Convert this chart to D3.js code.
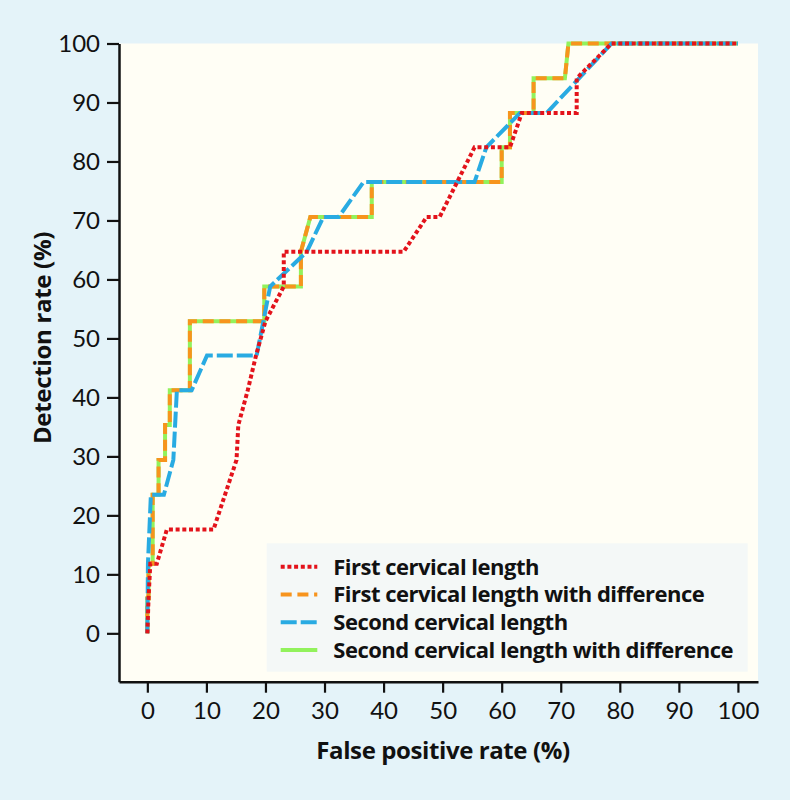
<!DOCTYPE html>
<html>
<head>
<meta charset="utf-8">
<script src="https://cdn.jsdelivr.net/npm/d3@7"></script>
<style>
  html, body { margin: 0; padding: 0; background: #e4f3f9; }
  svg { display: block; }
</style>
</head>
<body>
<svg id="chart" width="790" height="800"></svg>
<script>
// ---- data ----
const xTicks = [0, 10, 20, 30, 40, 50, 60, 70, 80, 90, 100];
const yTicks = [0, 10, 20, 30, 40, 50, 60, 70, 80, 90, 100];

const seriesNames = [
  "First cervical length",
  "First cervical length with difference",
  "Second cervical length",
  "Second cervical length with difference"
];

const firstFPR = [0, 0.2, 0.5, 1.6, 3.3, 11.2, 15.1, 15.4, 17.0, 18.4, 20.0, 23.1, 23.1, 43.4, 47.3, 49.5, 55.4, 61.4, 63.4, 72.7, 72.7, 78.6, 100];
const firstDR  = [0, 5.9, 11.8, 11.8, 17.6, 17.6, 29.4, 35.3, 41.2, 47.1, 52.9, 58.8, 64.7, 64.7, 70.6, 70.6, 82.4, 82.4, 88.2, 88.2, 94.1, 100, 100];

const firstDiffFPR = [0, 0, 0.2, 0.2, 0.9, 0.9, 1.9, 1.9, 3.0, 3.0, 3.8, 3.8, 7.2, 7.2, 19.8, 19.8, 26.0, 26.0, 27.6, 38.0, 38.0, 60.0, 60.0, 61.4, 61.4, 65.4, 65.4, 70.7, 71.3, 100];
const firstDiffDR  = [0, 5.9, 5.9, 11.8, 11.8, 23.5, 23.5, 29.4, 29.4, 35.3, 35.3, 41.2, 41.2, 52.9, 52.9, 58.8, 58.8, 64.7, 70.6, 70.6, 76.5, 76.5, 82.4, 82.4, 88.2, 88.2, 94.1, 94.1, 100, 100];

const secondFPR = [0, 0.1, 0.6, 2.8, 4.4, 5.0, 7.5, 10.1, 18.5, 20.8, 27.0, 29.8, 32.4, 36.6, 55.4, 57.4, 63.1, 67.6, 78.6, 100];
const secondDR  = [0, 11.8, 23.5, 23.5, 29.4, 41.2, 41.2, 47.1, 47.1, 58.8, 64.7, 70.6, 70.6, 76.5, 76.5, 82.4, 88.2, 88.2, 100, 100];

const secondDiffFPR = [0, 0, 0.2, 0.2, 0.9, 0.9, 1.9, 1.9, 3.0, 3.0, 3.8, 3.8, 7.2, 7.2, 19.8, 19.8, 26.0, 26.0, 27.6, 38.0, 38.0, 60.0, 60.0, 61.4, 61.4, 65.4, 65.4, 70.7, 71.3, 100];
const secondDiffDR  = [0, 5.9, 5.9, 11.8, 11.8, 23.5, 23.5, 29.4, 29.4, 35.3, 35.3, 41.2, 41.2, 52.9, 52.9, 58.8, 58.8, 64.7, 70.6, 70.6, 76.5, 76.5, 82.4, 82.4, 88.2, 88.2, 94.1, 94.1, 100, 100];

// ---- styles ----
const styles = {
  "First cervical length": { color: "#e3131b", dash: "4,2.7" },
  "First cervical length with difference": { color: "#f7941d", dash: "11,5.7" },
  "Second cervical length": { color: "#29abe2", dash: "16,4" },
  "Second cervical length with difference": { color: "#92f25c", dash: null }
};

const series = [
  { name: seriesNames[0], fpr: firstFPR, dr: firstDR },
  { name: seriesNames[1], fpr: firstDiffFPR, dr: firstDiffDR },
  { name: seriesNames[2], fpr: secondFPR, dr: secondDR },
  { name: seriesNames[3], fpr: secondDiffFPR, dr: secondDiffDR }
];

const boldFont = "'Open Sans', 'Noto Sans', sans-serif";
const tickFont = "Lato, 'Noto Sans', sans-serif";

const svg = d3.select("#chart");
const plotL = 119, plotR = 758, plotT = 43.5, plotB = 681.7;

const x = d3.scaleLinear().domain([-4.8, 103.4]).range([plotL, plotR]);
const y = d3.scaleLinear().domain([-8.2, 100]).range([plotB, plotT]);

svg.append("rect").attr("x", 0).attr("y", 0).attr("width", 790).attr("height", 800).attr("fill", "#e4f3f9");
svg.append("rect").attr("x", plotL).attr("y", plotT).attr("width", plotR - plotL).attr("height", plotB - plotT).attr("fill", "#fffef5");

// legend box (drawn below lines)
const legX = 266.7, legY = 543.3, legW = 481, legH = 128.4;
svg.append("rect").attr("x", legX).attr("y", legY).attr("width", legW).attr("height", legH).attr("fill", "#f4f8f7");

const line = d3.line().x(d => x(d[0])).y(d => y(d[1]));

const drawOrder = [3, 1, 2, 0];
drawOrder.forEach(i => {
  const s = series[i];
  const st = styles[s.name];
  const pts = s.fpr.map((v, k) => [v, s.dr[k]]);
  svg.append("path")
    .datum(pts)
    .attr("d", line)
    .attr("fill", "none")
    .attr("stroke", st.color)
    .attr("stroke-width", 4)
    .attr("stroke-dasharray", st.dash)
    .attr("stroke-linejoin", "miter");
});

// axes
const yAxis = d3.axisLeft(y).tickValues(yTicks).tickSize(12).tickSizeOuter(0).tickPadding(7);
const xAxis = d3.axisBottom(x).tickValues(xTicks).tickSize(11).tickSizeOuter(0).tickPadding(9);

const gy = svg.append("g").attr("transform", `translate(${plotL},0)`).call(yAxis);
const gx = svg.append("g").attr("transform", `translate(0,${plotB})`).call(xAxis);

[gx, gy].forEach(g => {
  g.select(".domain").attr("stroke", "#111").attr("stroke-width", 2.5);
  g.selectAll(".tick line").attr("stroke", "#111").attr("stroke-width", 2.2);
  g.selectAll(".tick text").attr("fill", "#111").style("font-family", tickFont).style("font-size", "24px");
});

// legend entries
series.forEach((s, i) => {
  const st = styles[s.name];
  const cy = 566.7 + i * 27.8;
  svg.append("line")
    .attr("x1", 280.7).attr("x2", 317.3).attr("y1", cy).attr("y2", cy)
    .attr("stroke", st.color).attr("stroke-width", 4)
    .attr("stroke-dasharray", st.dash);
  svg.append("text")
    .attr("x", 333.3).attr("y", cy + 7.8)
    .attr("fill", "#111")
    .style("font-family", boldFont)
    .style("font-weight", "bold")
    .style("font-size", "22px")
    .style("letter-spacing", "-0.5px")
    .text(s.name);
});

// axis titles
svg.append("text")
  .attr("x", 443).attr("y", 759)
  .attr("text-anchor", "middle")
  .attr("fill", "#111")
  .style("font-family", boldFont)
  .style("font-weight", "bold")
  .style("font-size", "24px")
  .style("letter-spacing", "-0.4px")
  .text("False positive rate (%)");

svg.append("text")
  .attr("transform", "translate(51,338) rotate(-90)")
  .attr("text-anchor", "middle")
  .attr("fill", "#111")
  .style("font-family", boldFont)
  .style("font-weight", "bold")
  .style("font-size", "24px")
  .style("letter-spacing", "-0.3px")
  .text("Detection rate (%)");
</script>
</body>
</html>
